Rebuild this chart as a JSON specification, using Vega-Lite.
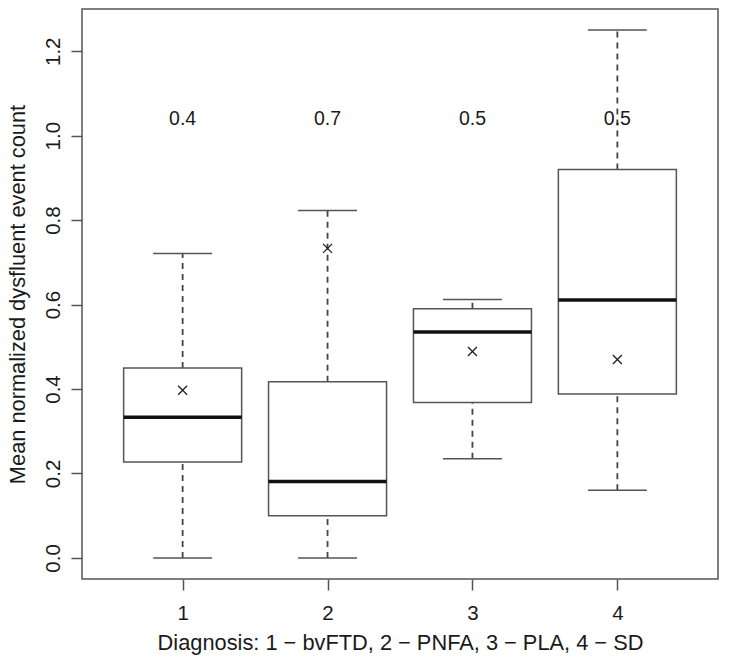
{
  "$schema": "https://vega.github.io/schema/vega-lite/v6.json",
  "width": 636,
  "height": 570,
  "autosize": "none",
  "padding": {"left": 82, "top": 9, "right": 11, "bottom": 89},
  "background": "white",
  "config": {
    "view": {"stroke": "#555555", "strokeWidth": 1.5},
    "font": "Liberation Sans",
    "axis": {
      "grid": false,
      "domain": false,
      "tickColor": "#555555",
      "tickWidth": 1.5,
      "tickSize": 11,
      "labelFont": "Liberation Sans",
      "labelFontSize": 20.5,
      "labelColor": "#1a1a1a",
      "titleFont": "Liberation Sans",
      "titleFontSize": 21.8,
      "titleFontWeight": "normal",
      "titleColor": "#1a1a1a"
    }
  },
  "data": {
    "values": [
      {"g": 1, "lo": 0.0, "q1": 0.227, "med": 0.333, "q3": 0.45, "hi": 0.721, "mean": 0.397, "label": "0.4"},
      {"g": 2, "lo": 0.0, "q1": 0.1, "med": 0.181, "q3": 0.417, "hi": 0.823, "mean": 0.733, "label": "0.7"},
      {"g": 3, "lo": 0.235, "q1": 0.368, "med": 0.535, "q3": 0.59, "hi": 0.612, "mean": 0.489, "label": "0.5"},
      {"g": 4, "lo": 0.16, "q1": 0.388, "med": 0.611, "q3": 0.92, "hi": 1.25, "mean": 0.47, "label": "0.5"}
    ]
  },
  "layer": [
    {
      "mark": {"type": "rule", "color": "#444444", "strokeWidth": 1.8, "strokeDash": [6, 5]},
      "encoding": {
        "x": {"field": "g", "type": "quantitative", "scale": {"domain": [0.34, 4.66], "nice": false, "zero": false},
          "axis": {"values": [1, 2, 3, 4], "format": "d", "title": "Diagnosis: 1 − bvFTD, 2 − PNFA, 3 − PLA, 4 − SD", "labelPadding": 13, "titlePadding": 9, "labelAngle": 0}},
        "y": {"field": "lo", "type": "quantitative", "scale": {"domain": [-0.05, 1.3], "nice": false, "zero": false},
          "axis": {"values": [0, 0.2, 0.4, 0.6, 0.8, 1.0, 1.2], "format": ".1f", "title": "Mean normalized dysfluent event count",
            "labelAngle": -90, "labelAlign": "center", "labelBaseline": "bottom", "labelPadding": 8, "titlePadding": 14}},
        "y2": {"field": "q1"}
      }
    },
    {
      "mark": {"type": "rule", "color": "#444444", "strokeWidth": 1.8, "strokeDash": [6, 5]},
      "encoding": {
        "x": {"field": "g", "type": "quantitative"},
        "y": {"field": "q3", "type": "quantitative"},
        "y2": {"field": "hi"}
      }
    },
    {
      "mark": {"type": "bar", "size": 118, "fill": "white", "stroke": "#555555", "strokeWidth": 1.5},
      "encoding": {
        "x": {"field": "g", "type": "quantitative"},
        "y": {"field": "q1", "type": "quantitative"},
        "y2": {"field": "q3"}
      }
    },
    {
      "mark": {"type": "tick", "orient": "horizontal", "size": 59, "thickness": 1.5, "color": "#555555", "opacity": 1},
      "encoding": {
        "x": {"field": "g", "type": "quantitative"},
        "y": {"field": "hi", "type": "quantitative"}
      }
    },
    {
      "mark": {"type": "tick", "orient": "horizontal", "size": 59, "thickness": 1.5, "color": "#555555", "opacity": 1},
      "encoding": {
        "x": {"field": "g", "type": "quantitative"},
        "y": {"field": "lo", "type": "quantitative"}
      }
    },
    {
      "mark": {"type": "tick", "orient": "horizontal", "size": 118, "thickness": 3.5, "color": "#111111", "opacity": 1},
      "encoding": {
        "x": {"field": "g", "type": "quantitative"},
        "y": {"field": "med", "type": "quantitative"}
      }
    },
    {
      "mark": {"type": "point", "shape": "M-1,-1L1,1M-1,1L1,-1", "size": 81, "filled": false, "stroke": "#222222", "strokeWidth": 1.3, "opacity": 1},
      "encoding": {
        "x": {"field": "g", "type": "quantitative"},
        "y": {"field": "mean", "type": "quantitative"}
      }
    },
    {
      "mark": {"type": "text", "font": "Liberation Sans", "fontSize": 19.5, "color": "#1a1a1a", "baseline": "middle", "align": "center"},
      "encoding": {
        "x": {"field": "g", "type": "quantitative"},
        "y": {"datum": 1.04},
        "text": {"field": "label"}
      }
    }
  ]
}
